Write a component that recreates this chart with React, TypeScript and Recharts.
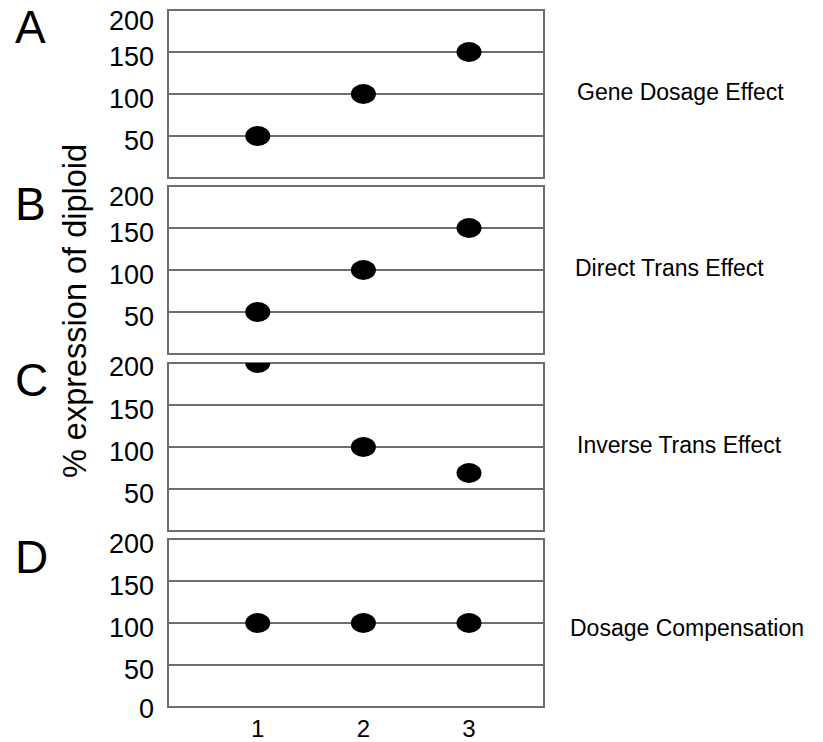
import React from 'react';
import { ScatterChart, Scatter, XAxis, YAxis, CartesianGrid, ReferenceArea } from 'recharts';

// dosage level (x) and % expression of diploid (y) for each panel
const positions = [1, 2, 3];
const geneDosage = [50, 100, 150];
const directTrans = [50, 100, 150];
const inverseTrans = [200, 100, 69];
const dosageCompensation = [100, 100, 100];

const panelLetters = ['A', 'B', 'C', 'D'];
const panelTitles = ['Gene Dosage Effect', 'Direct Trans Effect', 'Inverse Trans Effect', 'Dosage Compensation'];
const yTicks = [0, 50, 100, 150, 200];
const xTicks = [1, 2, 3];
const X_MIN = 0.15;
const X_MAX = 3.71;

const FONT = '"Liberation Sans", Arial, Helvetica, sans-serif';
const LINE = '#6e6e6e';

const seriesList = [geneDosage, directTrans, inverseTrans, dosageCompensation];

const Dot = (props: any) => {
  const { cx, cy } = props;
  return <ellipse cx={cx} cy={cy} rx={12.5} ry={10} fill="#000" />;
};

const YTick = (props: any) => {
  const { x, y, payload, showZero, topShift } = props;
  const v = payload.value;
  if (v === 0 && !showZero) return null;
  const shift = v === 200 ? topShift : v === 0 ? 1 : 4;
  return (
    <text x={x} y={y + shift} dy="0.355em" textAnchor="end" fontSize={27} fontFamily={FONT} fill="#000">
      {v}
    </text>
  );
};

const XTick = (props: any) => {
  const { x, y, payload } = props;
  return (
    <text x={x} y={y + 21} dy="0.355em" textAnchor="middle" fontSize={24} fontFamily={FONT} fill="#000">
      {payload.value}
    </text>
  );
};

const PLOT_H = 168;
const panelTops = [10, 186, 362.5, 539];
const topShifts = [10, 10.5, 3.5, 4];

const Panel: React.FC<{ idx: number }> = ({ idx }) => {
  const isLast = idx === 3;
  const data = positions.map((p, i) => ({ x: p, y: seriesList[idx][i] }));
  const marginTop = 12;
  const xAxisH = isLast ? 35 : 0;
  const height = marginTop + PLOT_H + xAxisH + (isLast ? 0 : 12);
  return (
    <div style={{ position: 'absolute', left: 0, top: panelTops[idx] - marginTop }}>
      <ScatterChart
        width={823}
        height={height}
        margin={{ top: marginTop, right: 279, left: 0, bottom: isLast ? 0 : 12 }}
      >
        <CartesianGrid vertical={false} stroke={LINE} strokeWidth={2} strokeDasharray="" />
        <XAxis
          type="number"
          dataKey="x"
          domain={[X_MIN, X_MAX]}
          ticks={xTicks}
          hide={!isLast}
          height={xAxisH}
          axisLine={false}
          tickLine={false}
          tickSize={0}
          tickMargin={0}
          tick={<XTick />}
          allowDataOverflow
        />
        <YAxis
          type="number"
          dataKey="y"
          domain={[0, 200]}
          ticks={yTicks}
          width={168}
          axisLine={false}
          tickLine={false}
          tickSize={0}
          tickMargin={14}
          interval={0}
          tick={<YTick showZero={isLast} topShift={topShifts[idx]} />}
          allowDataOverflow
        />
        <ReferenceArea
          x1={X_MIN}
          x2={X_MAX}
          y1={0}
          y2={200}
          fill="none"
          stroke={LINE}
          strokeWidth={2}
          fillOpacity={0}
          ifOverflow="visible"
        />
        <Scatter data={data} shape={<Dot />} isAnimationActive={false} />
      </ScatterChart>
    </div>
  );
};

const letterBaselines = [43, 220, 396, 573];
const titleX = [577, 575, 577, 570];
const titleBaselines = [100, 276, 452.5, 636];

export default function App() {
  return (
    <div style={{ position: 'absolute', left: 0, top: 0, width: 823, height: 742, background: '#fff' }}>
      {panelLetters.map((_, i) => (
        <Panel key={i} idx={i} />
      ))}
      <svg width={823} height={742} style={{ position: 'absolute', left: 0, top: 0, pointerEvents: 'none' }}>
        {panelLetters.map((l, i) => (
          <text key={l} x={15} y={letterBaselines[i]} fontSize={46} fontFamily={FONT} fill="#000">
            {l}
          </text>
        ))}
        {panelTitles.map((t, i) => (
          <text key={t} x={titleX[i]} y={titleBaselines[i]} fontSize={23} fontFamily={FONT} fill="#000">
            {t}
          </text>
        ))}
        <text
          x={86}
          y={311}
          transform="rotate(-90, 86, 311)"
          textAnchor="middle"
          fontSize={32.5}
          fontFamily={FONT}
          fill="#000"
        >
          % expression of diploid
        </text>
      </svg>
    </div>
  );
}
